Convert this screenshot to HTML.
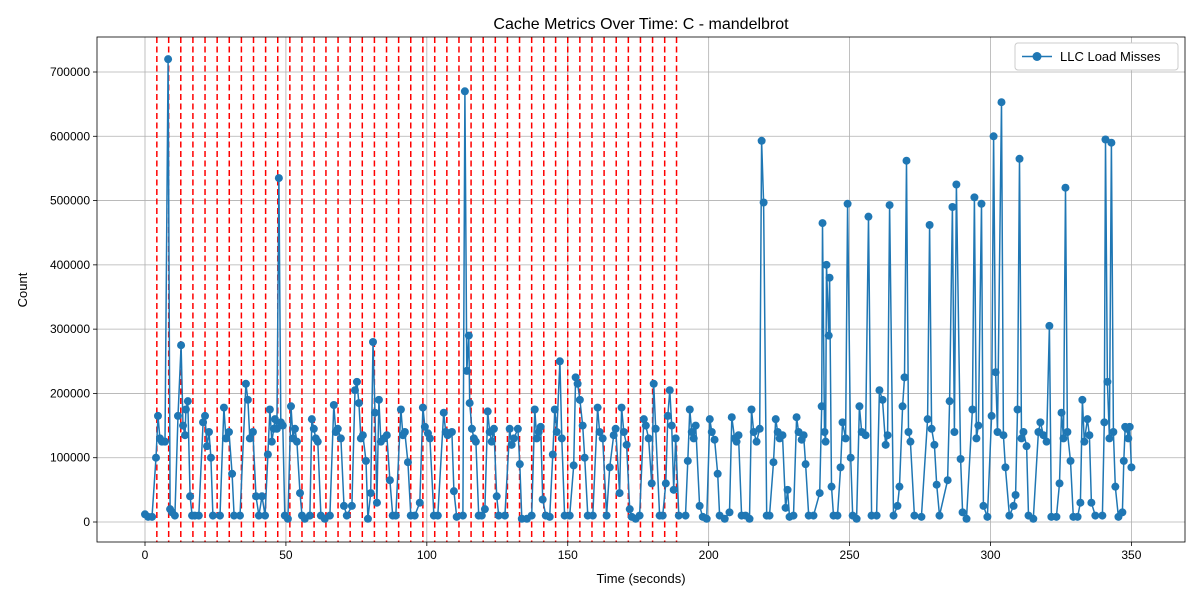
<!DOCTYPE html>
<html><head><meta charset="utf-8"><style>
body{margin:0;background:#fff}
svg text{font-family:"Liberation Sans","DejaVu Sans",sans-serif;fill:#000}
</style></head><body>
<svg id="chart" width="1200" height="600" xmlns="http://www.w3.org/2000/svg">
<rect width="1200" height="600" fill="#fff"/>
<text x="641" y="29" font-size="16" text-anchor="middle">Cache Metrics Over Time: C - mandelbrot</text>
<g id="grid"></g><g id="events"></g><g id="series"></g><g id="axes"></g>
<text x="641" y="583" font-size="13" text-anchor="middle">Time (seconds)</text>
<text x="27" y="290" font-size="13" text-anchor="middle" transform="rotate(-90 27 290)">Count</text>
<g>
<rect x="1015" y="43" width="163" height="27" rx="3" fill="#fff" stroke="#ccc" stroke-width="1"/>
<line x1="1022" y1="56.5" x2="1052" y2="56.5" stroke="#1f77b4" stroke-width="1.5"/>
<circle cx="1037" cy="56.5" r="4.5" fill="#1f77b4"/>
<text x="1060" y="61" font-size="13">LLC Load Misses</text>
</g>
</svg>
<script>
const times=[0,1.1,2.5,3.9,4.6,5.3,6,7.1,8.2,8.9,9.6,10.6,11.7,12.8,13.5,14.2,14.5,15.2,16,16.7,17.7,19.1,20.6,21.3,22,22.7,23.4,24.1,26.6,28,28.7,29.8,30.9,31.6,33.7,35.8,36.5,37.2,38.3,39.4,40.4,41.5,42.6,43.6,44.3,45,45.7,46.1,46.8,47.5,48.2,48.9,49.6,50.7,51.8,52.5,53.2,53.9,55,55.7,56.7,58.5,59.2,59.9,60.6,61.3,62.4,63.8,65.6,67,67.7,68.4,69.5,70.6,71.6,73.4,74.5,75.2,75.9,76.6,77.3,78.4,79.1,80.1,80.9,81.6,82.3,83,83.7,84.8,85.8,86.9,87.9,89,90.8,91.5,92.2,93.3,94.3,95.7,97.5,98.6,99.3,100.4,101.1,102.5,103.9,106,106.7,107.4,108.9,109.6,110.6,112.8,113.5,114.2,114.9,115.2,116,116.7,117.4,118.4,119.5,120.6,121.6,122.3,123,123.8,124.8,125.5,127.7,129.4,130.1,130.9,132.3,133,133.7,135.5,137.2,138.3,139,139.7,140.4,141.1,142.2,143.6,144.7,145.4,146.1,147.2,147.9,148.9,150.7,152.1,152.8,153.5,154.3,155.3,156,157.1,158.9,160.6,161.3,162.4,163.8,164.9,166.3,167,168.4,169.1,169.9,170.9,172,172.7,174.1,175.5,177,177.7,178.7,179.8,180.5,181.2,182.6,183.7,184.8,185.5,186.2,186.9,187.6,188.3,189.4,191.8,
192.6,193.3,194,194.7,195.4,196.8,197.9,199.3,200.4,201.1,202.1,203.2,203.9,205.7,207.4,208.2,209.2,209.9,210.6,211.7,213.1,214.5,215.2,216,217,218.1,218.8,219.5,220.6,221.6,223,223.8,224.5,225.2,226.2,227.3,228,228.7,230.1,231.2,231.9,233,233.7,234.4,235.5,237.2,239.4,240.1,240.4,241.1,241.5,241.8,242.6,242.9,243.6,244.3,245.7,246.8,247.5,248.6,249.3,250.4,251.1,252.5,253.5,254.3,255.7,256.7,257.8,259.6,260.6,261.7,262.8,263.5,264.2,265.6,267,267.7,268.8,269.5,270.2,270.9,271.6,273,275.5,277.7,278.4,279.1,280.1,280.9,281.9,284.8,285.5,286.5,287.2,287.9,289.4,290.1,291.5,293.6,294.3,295,295.7,296.8,297.5,298.9,300.4,301.1,301.8,302.5,303.9,304.6,305.3,306.7,308.2,308.9,309.6,310.3,311,311.7,312.8,313.5,315.2,317,317.7,318.8,319.9,320.9,321.6,323.4,324.5,325.2,325.9,326.6,327.3,328.4,329.4,330.9,331.9,332.6,333.3,334.4,335.1,335.8,337.2,339.7,340.4,340.8,341.5,342.2,342.9,343.6,344.3,345.4,346.8,347.3,347.8,348.4,348.9,349.4,350];
const llcMissesK=[12,8,8,100,165,130,125,125,720,20,15,10,165,275,150,135,175,188,40,10,10,10,155,165,118,140,100,10,10,178,130,140,75,10,10,215,190,130,140,40,10,40,10,105,175,125,145,160,145,535,155,150,10,5,180,130,145,125,45,10,5,10,160,145,130,125,10,5,10,182,140,145,130,25,10,25,205,218,185,130,135,95,5,45,280,170,30,190,125,130,135,65,10,10,175,135,140,93,10,10,30,178,148,138,130,10,10,170,140,135,140,48,8,10,670,235,290,185,145,130,125,10,10,20,172,140,125,145,40,10,10,145,120,130,145,90,5,5,10,175,130,140,148,35,10,8,105,175,140,250,130,10,10,88,225,215,190,150,100,10,10,178,140,130,10,85,135,145,45,178,140,120,20,8,5,10,160,150,130,60,215,145,10,10,60,165,205,150,50,130,10,10,
95,175,140,130,150,25,8,5,160,140,128,75,10,5,15,163,130,125,135,10,10,5,175,140,125,145,593,497,10,10,93,160,140,130,135,22,50,8,10,163,140,128,135,90,10,10,45,180,465,140,125,400,290,380,55,10,10,85,155,130,495,100,10,5,180,140,135,475,10,10,205,190,120,135,493,10,25,55,180,225,562,140,125,10,8,160,462,145,120,58,10,65,188,490,140,525,98,15,5,175,505,130,150,495,25,8,165,600,233,140,653,135,85,10,25,42,175,565,130,140,118,10,5,140,155,135,125,305,8,8,60,170,130,520,140,95,8,8,30,190,125,160,135,30,10,10,155,595,218,130,590,140,55,8,15,95,148,145,130,148,85];
const eventTimes=[4.2,8.4,12.7,17.0,21.3,25.6,29.9,34.2,38.5,42.8,47.1,51.4,55.7,60.0,64.2,68.5,72.8,77.1,81.4,85.7,90.0,94.3,98.6,102.8,107.1,111.4,115.7,120.0,124.3,128.6,132.9,137.2,141.5,145.7,150.0,154.3,158.6,162.9,167.2,171.5,175.8,180.1,184.4,188.6];
const xTicks=[0,50,100,150,200,250,300,350];
const yTicks=[0,100000,200000,300000,400000,500000,600000,700000];

const NS="http://www.w3.org/2000/svg";
const L=97,R=1185,T=37,B=542;
function xs(t){return 145+t*(1131.4-145)/350;}
function ys(v){return 522-v*450/700000;}
function mk(tag,attrs,parent){const e=document.createElementNS(NS,tag);for(const k in attrs)e.setAttribute(k,attrs[k]);parent.appendChild(e);return e;}
const grid=document.getElementById('grid'),axes=document.getElementById('axes'),ev=document.getElementById('events'),ser=document.getElementById('series');
xTicks.forEach(t=>{
  const g=mk('line',{x1:xs(t),x2:xs(t),y1:T,y2:B,stroke:'#b0b0b0','stroke-width':0.8},grid);
  
  
  mk('line',{x1:xs(t),x2:xs(t),y1:B,y2:B+4,stroke:'#000','stroke-width':0.8},axes);
  const tx=mk('text',{x:xs(t),y:B+17,'font-size':12,'text-anchor':'middle'},axes);
  tx.textContent=t;
  
  
});
yTicks.forEach(v=>{
  const g=mk('line',{x1:L,x2:R,y1:ys(v),y2:ys(v),stroke:'#b0b0b0','stroke-width':0.8},grid);
  
  
  mk('line',{x1:L-4,x2:L,y1:ys(v),y2:ys(v),stroke:'#000','stroke-width':0.8},axes);
  const tx=mk('text',{x:L-7,y:ys(v)+4,'font-size':12,'text-anchor':'end'},axes);
  tx.textContent=v;
  
  
});
const frame=mk('rect',{x:L,y:T,width:R-L,height:B-T,fill:'none',stroke:'#000','stroke-width':0.8},axes);


eventTimes.forEach(t=>{
  const l=mk('line',{x1:xs(t),x2:xs(t),y1:T,y2:B,stroke:'#ff0000','stroke-width':1.5,'stroke-dasharray':'6,3.5'},ev);
  
  
});
let d='';
times.forEach((t,i)=>{d+=(i?'L':'M')+xs(t).toFixed(1)+' '+ys(llcMissesK[i]*1000).toFixed(1);});
const p=mk('path',{d:d,fill:'none',stroke:'#1f77b4','stroke-width':1.5,'stroke-linejoin':'round'},ser);


times.forEach((t,i)=>{
  const c=mk('circle',{cx:xs(t),cy:ys(llcMissesK[i]*1000),r:4,fill:'#1f77b4'},ser);
  
  
});
</script>
</body></html>
